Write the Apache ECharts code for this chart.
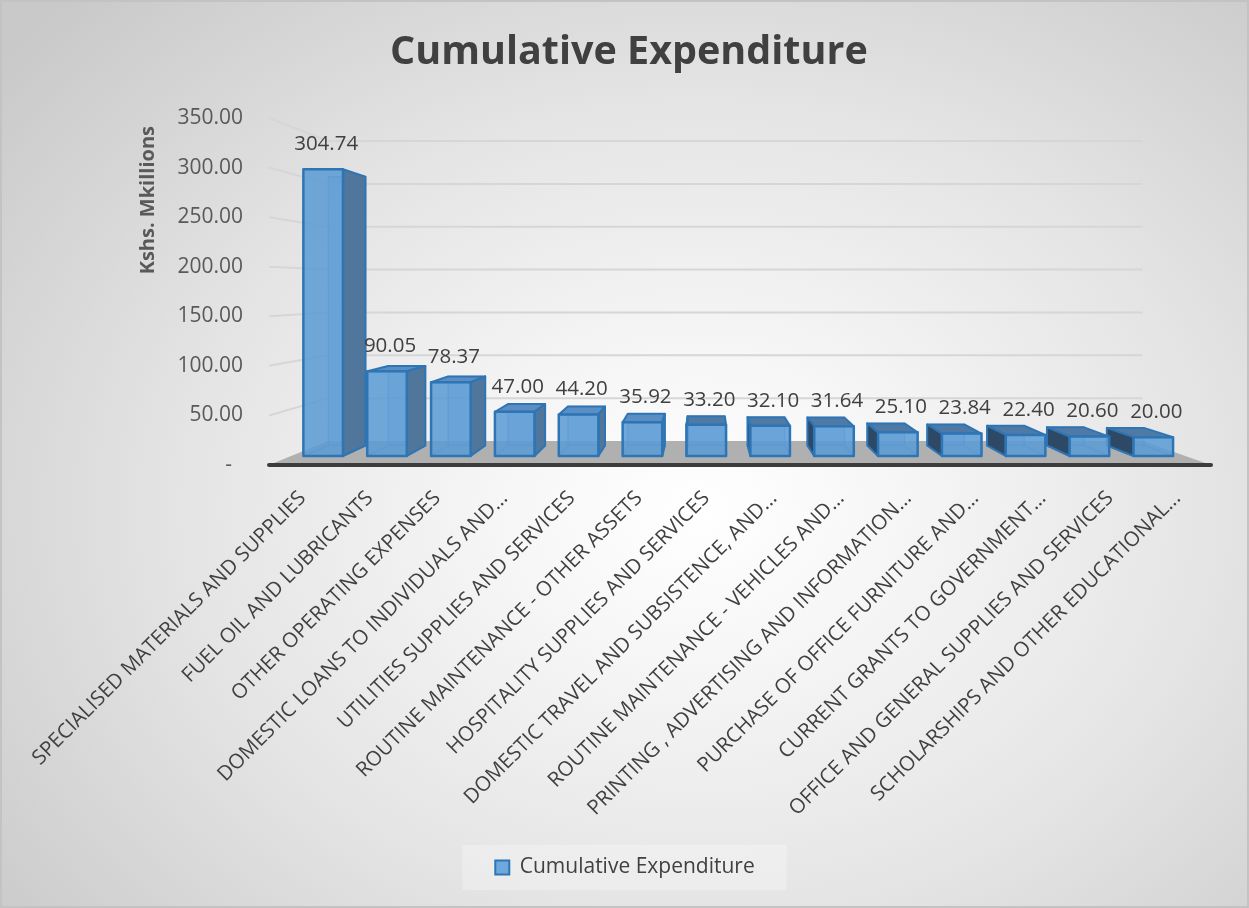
<!DOCTYPE html>
<html><head><meta charset="utf-8">
<script src="https://cdn.jsdelivr.net/npm/echarts@6/dist/echarts.min.js"></script>
<style>
html,body{margin:0;padding:0;}
#wrap{position:relative;width:1249px;height:908px;overflow:hidden;
 background:radial-gradient(ellipse 72% 78% at 56% 56%, #ffffff 0%, #f6f6f6 22%, #e4e4e4 58%, #c9c9c9 100%);}
#main{position:absolute;left:0;top:0;width:1249px;height:908px;}
#frame{position:absolute;left:0;top:0;width:1249px;height:908px;box-sizing:border-box;border:2px solid #c3c3c3;pointer-events:none;}
</style></head>
<body><div id="wrap"><div id="main"></div><div id="frame"></div></div>
<script>
const categories = [
  'SPECIALISED MATERIALS AND SUPPLIES',
  'FUEL OIL AND LUBRICANTS',
  'OTHER OPERATING EXPENSES',
  'DOMESTIC LOANS TO INDIVIDUALS AND...',
  'UTILITIES SUPPLIES AND SERVICES',
  'ROUTINE MAINTENANCE - OTHER ASSETS',
  'HOSPITALITY SUPPLIES AND SERVICES',
  'DOMESTIC TRAVEL AND SUBSISTENCE, AND...',
  'ROUTINE MAINTENANCE - VEHICLES AND...',
  'PRINTING , ADVERTISING AND INFORMATION...',
  'PURCHASE OF OFFICE FURNITURE AND...',
  'CURRENT GRANTS TO GOVERNMENT...',
  'OFFICE AND GENERAL SUPPLIES AND SERVICES',
  'SCHOLARSHIPS AND OTHER EDUCATIONAL...'
];
const values = [304.74, 90.05, 78.37, 47.00, 44.20, 35.92, 33.20, 32.10, 31.64, 25.10, 23.84, 22.40, 20.60, 20.00];
const yTicks = [50, 100, 150, 200, 250, 300, 350];
const seriesName = 'Cumulative Expenditure';

// perspective settings (layout only)
const VX = 705, VY = 288;
const S_WALL = 0.8646, S_FRONT = 0.949, S_BACK = 0.89;
const BAR_RATIO = 0.62;
const FONT = '"Open Sans", sans-serif';

function T(x, y, s) { return [VX + s * (x - VX), VY + s * (y - VY)]; }

function poly(points, style, z2) {
  return { type: 'polygon', shape: { points: points }, style: style, z2: z2 || 0, silent: true };
}
function line(a, b, style, z2) {
  return { type: 'line', shape: { x1: a[0], y1: a[1], x2: b[0], y2: b[1] }, style: style, z2: z2 || 0, silent: true };
}

const chart = echarts.init(document.getElementById('main'), null, { renderer: 'canvas' });

const option = {
  animation: false,
  backgroundColor: 'transparent',
  title: {
    text: 'Cumulative Expenditure',
    left: 385, top: 28,
    textStyle: { fontFamily: FONT, fontSize: 39.5, fontWeight: 'bold', color: '#404040' }
  },
  legend: {
    data: [seriesName],
    top: 845, left: 'center',
    icon: 'rect', itemWidth: 14, itemHeight: 14, itemGap: 14,
    padding: [12, 32],
    backgroundColor: 'rgba(255,255,255,0.28)',
    itemStyle: { color: '#6fa8dc', borderColor: '#2e75b6', borderWidth: 2 },
    formatter: function (name) { return ' ' + name; },
    textStyle: { fontFamily: FONT, fontSize: 21, color: '#404040' }
  },
  graphic: [{
    type: 'text', left: 138, top: 126, rotation: Math.PI / 2, silent: true,
    style: { text: 'Kshs. Mkillions', fontFamily: FONT, fontSize: 20, fontWeight: 'bold', fill: '#595959' }
  }],
  grid: { left: 269, right: 38, top: 118, bottom: 443, containLabel: false },
  xAxis: {
    type: 'category', data: categories, z: 10,
    axisLine: { show: true, lineStyle: { color: '#3c3c3c', width: 4 } },
    axisTick: { show: false },
    axisLabel: { interval: 0, rotate: 45, margin: 30, fontFamily: FONT, fontSize: 20.5, color: '#404040' },
    splitLine: { show: false }
  },
  yAxis: {
    type: 'value', min: 0, max: 350, interval: 50,
    axisLine: { show: false }, axisTick: { show: false }, splitLine: { show: false },
    axisLabel: {
      margin: 26, fontFamily: FONT, fontSize: 21, color: '#595959',
      formatter: function (v) { return v === 0 ? '-  ' : v.toFixed(2); }
    }
  },
  series: [
    {
      type: 'custom', name: 'walls', silent: true, z: 1,
      data: yTicks.map(function (v) { return [0, v]; }),
      renderItem: function (params, api) {
        const p = api.coord([0, api.value(1)]);
        const x0 = params.coordSys.x, x1 = x0 + params.coordSys.width;
        const a = [x0, p[1]], b = T(x0, p[1], S_WALL), c = T(x1, p[1], S_WALL);
        return {
          type: 'polyline', silent: true,
          shape: { points: [a, b, c] },
          style: { stroke: '#d6d6d6', lineWidth: 2, fill: null }
        };
      }
    },
    {
      type: 'custom', name: 'floor', silent: true, z: 1,
      data: [[0, 0]],
      renderItem: function (params, api) {
        const p = api.coord([0, 0]);
        const x0 = params.coordSys.x, x1 = x0 + params.coordSys.width;
        return poly([[x0, p[1]], [x1, p[1]], T(x1, p[1], S_WALL), T(x0, p[1], S_WALL)],
          { fill: '#b0b0b0', stroke: null });
      }
    },
    {
      type: 'custom', name: seriesName, z: 3,
      itemStyle: { color: '#6fa8dc', borderColor: '#2e75b6', borderWidth: 2 },
      data: values.map(function (v, i) { return [i, v]; }),
      renderItem: function (params, api) {
        const i = api.value(0), v = api.value(1);
        const top = api.coord([i, v]), base = api.coord([i, 0]);
        const hw = api.size([1, 0])[0] * BAR_RATIO / 2;
        const xl = top[0] - hw, xr = top[0] + hw, yt = top[1], yb = base[1];
        const F = function (x, y) { return T(x, y, S_FRONT); };
        const B = function (x, y) { return T(x, y, S_BACK); };
        const rightSide = top[0] < VX;
        const sx = rightSide ? xr : xl;
        const edge = '#2e75b6';
        const ch = [];
        ch.push(poly([B(xl, yt), B(xr, yt), B(xr, yb), B(xl, yb)],
          { fill: 'rgba(91,155,213,0.30)', stroke: 'rgba(46,117,182,0.45)', lineWidth: 1.5 }, 1));
        ch.push(line(F(xl, yb), B(xl, yb), { stroke: 'rgba(46,117,182,0.45)', lineWidth: 1.5 }, 2));
        ch.push(line(F(xr, yb), B(xr, yb), { stroke: 'rgba(46,117,182,0.45)', lineWidth: 1.5 }, 2));
        if (B(xl, yt)[1] < F(xl, yt)[1]) {
          ch.push(poly([F(xl, yt), F(xr, yt), B(xr, yt), B(xl, yt)],
            { fill: rightSide ? '#5b8ec2' : '#4f7aa6', stroke: edge, lineWidth: 2, lineJoin: 'round' }, 3));
        }
        ch.push(poly([F(sx, yt), B(sx, yt), B(sx, yb), F(sx, yb)],
          { fill: rightSide ? '#50769b' : '#2d4965', stroke: edge, lineWidth: 2, lineJoin: 'round' }, 4));
        ch.push(poly([F(xl, yt), F(xr, yt), F(xr, yb), F(xl, yb)],
          { fill: 'rgba(91,155,213,0.86)', stroke: edge, lineWidth: 2.5, lineJoin: 'round' }, 5));
        const lp = F(top[0], yt);
        ch.push({
          type: 'text', silent: true, z2: 6,
          style: {
            text: v.toFixed(2), x: lp[0] + 3, y: lp[1] - 25,
            align: 'center', verticalAlign: 'middle',
            fontFamily: FONT, fontSize: 20.5, fill: '#404040'
          }
        });
        return { type: 'group', children: ch };
      }
    }
  ]
};
chart.setOption(option);
</script>
</body></html>
